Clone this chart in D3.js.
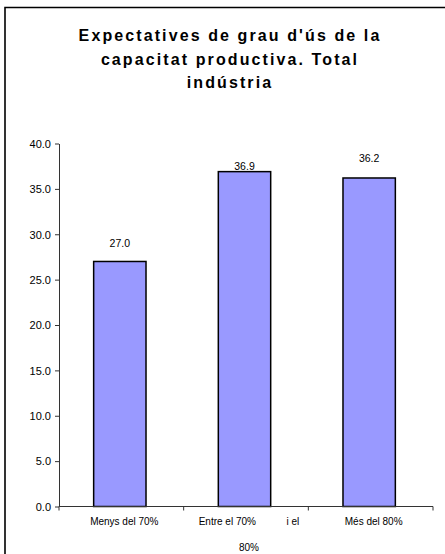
<!DOCTYPE html>
<html><head><meta charset="utf-8">
<script src="https://cdn.jsdelivr.net/npm/d3@7"></script>
<style>
html,body{margin:0;padding:0;background:#fff;}
svg{display:block;font-family:"Liberation Sans",Arial,sans-serif;}
</style></head>
<body>
<script>
const titleLines = ["Expectatives de grau d'ús de la", "capacitat productiva. Total", "indústria"];
const categories = ["Menys del 70%", "Entre el 70% i el 80%", "Més del 80%"];
const categoryLines = [["Menys del 70%"], ["Entre el 70%           i el", "80%"], ["Més del 80%"]];
const values = [27.0, 36.9, 36.2];
const yTicks = [0, 5, 10, 15, 20, 25, 30, 35, 40];

const W = 445, H = 554;
const svg = d3.select("body").append("svg").attr("width", W).attr("height", H);

// frame
svg.append("path").attr("d", `M5,${H+5} L5,7.5 L${W+5},7.5`).attr("fill","none")
  .attr("stroke","#000").attr("stroke-width",1.6);

// title
const title = svg.append("text").attr("text-anchor","middle")
  .attr("font-weight","bold").attr("font-size",16).attr("fill","#000")
  .style("letter-spacing","2.1px");
titleLines.forEach((t,i)=>{
  title.append("tspan").attr("x",230).attr("y",41+i*23.5).text(t);
});

const x0 = 59, x1 = 433, yTop = 143.5, yBot = 506.5;
const x = d3.scaleBand().domain(categories).range([x0,x1]).paddingInner(0.58).paddingOuter(0.29);
const y = d3.scaleLinear().domain([0,40]).range([yBot,yTop]);

// y axis
const yAxis = d3.axisLeft(y).tickValues(yTicks).tickFormat(d3.format(".1f")).tickSize(4).tickSizeOuter(0);
const gy = svg.append("g").attr("transform",`translate(${x0},0)`).call(yAxis);
gy.select(".domain").attr("stroke","#333");
gy.selectAll(".tick line").attr("stroke","#333");
gy.selectAll(".tick text").attr("font-size",11).attr("font-family","Liberation Sans, Arial, sans-serif")
  .attr("fill","#000").attr("x",-8).attr("dy","0.35em");

// bars
svg.selectAll("rect.bar").data(values).join("rect").attr("class","bar")
  .attr("x",(d,i)=>x(categories[i]) - 1.5)
  .attr("y",d=>y(d))
  .attr("width",x.bandwidth())
  .attr("height",d=>yBot-y(d))
  .attr("fill","#9999FF").attr("stroke","#000").attr("stroke-width",1.5);

// x axis
const gx = svg.append("g");
gx.append("line").attr("x1",x0).attr("x2",x1).attr("y1",yBot).attr("y2",yBot).attr("stroke","#333");
const bounds = [x0, x0+ (x1-x0)/3, x0+2*(x1-x0)/3, x1];
gx.selectAll("line.t").data(bounds).join("line").attr("class","t")
  .attr("x1",d=>d).attr("x2",d=>d).attr("y1",yBot).attr("y2",yBot+4).attr("stroke","#333");

// value labels
const labelGap = [14, 2, 16];
svg.selectAll("text.val").data(values).join("text").attr("class","val")
  .attr("x",(d,i)=>x(categories[i]) - 1.5 + x.bandwidth()/2)
  .attr("y",(d,i)=>y(d)-labelGap[i])
  .attr("text-anchor","middle").attr("font-size",10.5).attr("fill","#000")
  .text(d=>d3.format(".1f")(d));

// category labels
categoryLines.forEach((lines,i)=>{
  const cx = x(categories[i]) + x.bandwidth()/2 + 3;
  const t = svg.append("text").attr("text-anchor","middle").attr("font-size",10).attr("fill","#000")
    .style("white-space","pre");
  lines.forEach((l,j)=>{
    t.append("tspan").attr("x",cx).attr("y",525+j*26).text(l);
  });
});
</script>
</body></html>
